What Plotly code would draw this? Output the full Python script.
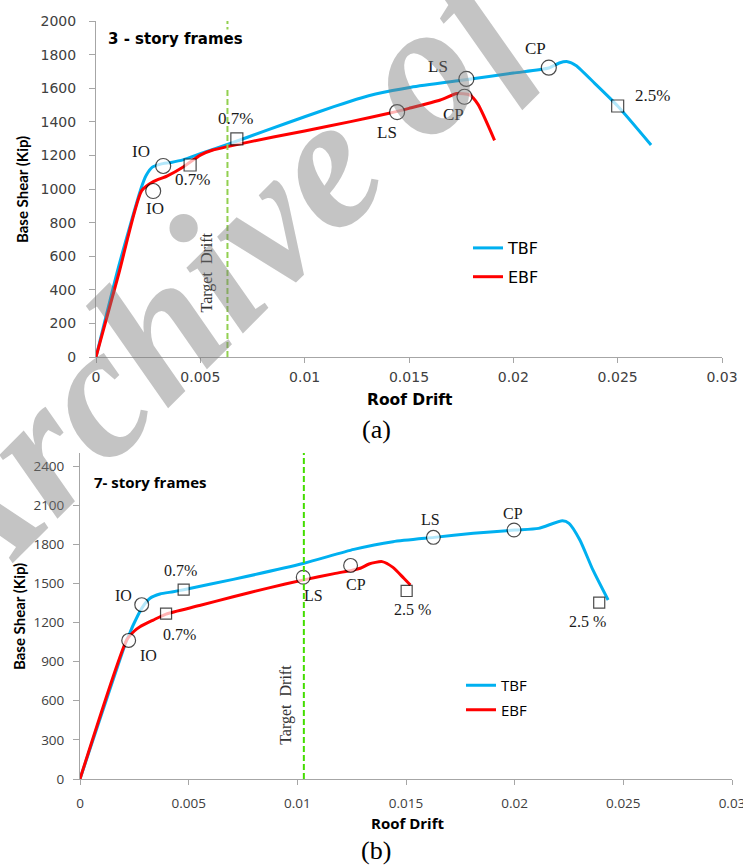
import plotly.graph_objects as go

W, H = 743, 867

# ---------------- (a) 3-story frames: pushover curves ----------------
a_tbf_drift = [0, 0.0011, 0.00215, 0.0024, 0.0027, 0.0031, 0.0036, 0.0042, 0.0050, 0.0063,
               0.0082, 0.0100, 0.0114, 0.0127, 0.0134, 0.0151, 0.0177, 0.0200, 0.0217,
               0.0222, 0.0226, 0.0230, 0.0239, 0.0250, 0.0266]
a_tbf_shear = [0, 545, 1000, 1080, 1130, 1148, 1158, 1175, 1210, 1265,
               1350, 1430, 1490, 1542, 1565, 1606, 1650, 1690, 1720,
               1750, 1758, 1735, 1629, 1494, 1262]

a_ebf_drift = [0, 0.0011, 0.00219, 0.00275, 0.0034, 0.0042, 0.0050, 0.0056, 0.0063,
               0.0085, 0.0100, 0.0122, 0.0141, 0.0150, 0.0165, 0.0173, 0.0179, 0.0183, 0.0191]
a_ebf_shear = [0, 500, 990, 1044, 1077, 1133, 1202, 1232, 1252,
               1310, 1345, 1401, 1452, 1480, 1530, 1568, 1560, 1505, 1290]

# performance points (a)
a_tbf_pt_drift = [0.00322, 0.00675, 0.01775, 0.0217, 0.0250]
a_tbf_pt_shear = [1137, 1298, 1655, 1722, 1494]
a_tbf_pt_label = ["IO", "0.7%", "LS", "CP", "2.5%"]
a_tbf_pt_kind = ["circle", "square", "circle", "circle", "square"]

a_ebf_pt_drift = [0.00274, 0.00451, 0.01443, 0.01766]
a_ebf_pt_shear = [988, 1143, 1458, 1549]
a_ebf_pt_label = ["IO", "0.7%", "LS", "CP"]
a_ebf_pt_kind = ["circle", "square", "circle", "circle"]

a_target_drift = 0.0063

# ---------------- (b) 7-story frames: pushover curves ----------------
b_tbf_drift = [0, 0.00215, 0.00222, 0.00245, 0.00284, 0.00322, 0.00368, 0.00429, 0.00477,
               0.00705, 0.0103, 0.0126, 0.0144, 0.0163, 0.0181, 0.0200, 0.0211,
               0.0222, 0.0225, 0.0230, 0.0236, 0.0243]
b_tbf_shear = [0, 1066, 1091, 1181, 1309, 1386, 1419, 1436, 1452,
               1531, 1654, 1761, 1820, 1853, 1884, 1909, 1922,
               1981, 1961, 1833, 1603, 1373]

b_ebf_drift = [0, 0.00215, 0.0025, 0.00276, 0.00337, 0.00396, 0.0055, 0.00705, 0.0086,
               0.0103, 0.0117, 0.0125, 0.0129, 0.0133, 0.0139, 0.0144, 0.0149, 0.0152]
b_ebf_shear = [0, 1066, 1135, 1168, 1219, 1265, 1330, 1398, 1462,
               1527, 1575, 1600, 1616, 1649, 1667, 1623, 1539, 1488]

b_tbf_pt_drift = [0.00284, 0.00477, 0.01626, 0.01997, 0.02389]
b_tbf_pt_shear = [1337, 1452, 1853, 1909, 1352]
b_tbf_pt_label = ["IO", "0.7%", "LS", "CP", "2.5 %"]
b_tbf_pt_kind = ["circle", "square", "circle", "circle", "square"]

b_ebf_pt_drift = [0.00224, 0.00396, 0.01027, 0.01245, 0.01503]
b_ebf_pt_shear = [1063, 1268, 1547, 1638, 1442]
b_ebf_pt_label = ["IO", "0.7%", "LS", "CP", "2.5 %"]
b_ebf_pt_kind = ["circle", "square", "circle", "circle", "square"]

b_target_drift = 0.0103

x_ticks = [0, 0.005, 0.01, 0.015, 0.02, 0.025, 0.03]
x_tick_text = ["0", "0.005", "0.01", "0.015", "0.02", "0.025", "0.03"]
a_y_ticks = list(range(0, 2001, 200))
b_y_ticks = list(range(0, 2401, 300))

BLUE = "#00B0F0"
RED = "#FF0000"
AXIS = "#A6A6A6"
TICKC = "#404040"
SERIF = "Liberation Serif"


def px_x(p):
    return p / W


def px_y(p):
    return 1 - p / H


fig = go.Figure()

# curves
for xs, ys, name, color, xa, ya, lg in [
    (a_tbf_drift, a_tbf_shear, "TBF", BLUE, "x", "y", "legend"),
    (a_ebf_drift, a_ebf_shear, "EBF", RED, "x", "y", "legend"),
    (b_tbf_drift, b_tbf_shear, "TBF", BLUE, "x2", "y2", "legend2"),
    (b_ebf_drift, b_ebf_shear, "EBF", RED, "x2", "y2", "legend2"),
]:
    fig.add_trace(go.Scatter(
        x=xs, y=ys, name=name, mode="lines", xaxis=xa, yaxis=ya, legend=lg,
        legendgroup=lg + name,
        line=dict(color=color, width=3, shape="spline", smoothing=0.6),
        hoverinfo="skip"))

# performance-level markers
for xs, ys, kinds, xa, ya, msize in [
    (a_tbf_pt_drift, a_tbf_pt_shear, a_tbf_pt_kind, "x", "y", 1.0),
    (a_ebf_pt_drift, a_ebf_pt_shear, a_ebf_pt_kind, "x", "y", 1.0),
    (b_tbf_pt_drift, b_tbf_pt_shear, b_tbf_pt_kind, "x2", "y2", 0.92),
    (b_ebf_pt_drift, b_ebf_pt_shear, b_ebf_pt_kind, "x2", "y2", 0.92),
]:
    sizes = [(15 if k == "circle" else 12) * msize for k in kinds]
    fig.add_trace(go.Scatter(
        x=xs, y=ys, mode="markers", xaxis=xa, yaxis=ya, showlegend=False,
        marker=dict(symbol=kinds, size=sizes, color="white",
                    line=dict(color="black", width=1.2)),
        hoverinfo="skip"))

# label offsets (pixels) for each performance point
a_tbf_off = [(-22, 14), (-1, 20), (-28, 12), (-13, 19), (35, 11)]
a_ebf_off = [(2, -17), (2, -15), (-10, -20), (-11, -18)]
b_tbf_off = [(-18, 9), (-3, 19), (-3, 18), (-1, 17), (-12, -19)]
b_ebf_off = [(20, -15), (13, -21), (10, -18), (5, -19), (6, -19)]

annotations = []
for xs, ys, labels, offs, xa, ya, fsize in [
    (a_tbf_pt_drift, a_tbf_pt_shear, a_tbf_pt_label, a_tbf_off, "x", "y", 17),
    (a_ebf_pt_drift, a_ebf_pt_shear, a_ebf_pt_label, a_ebf_off, "x", "y", 17),
    (b_tbf_pt_drift, b_tbf_pt_shear, b_tbf_pt_label, b_tbf_off, "x2", "y2", 16),
    (b_ebf_pt_drift, b_ebf_pt_shear, b_ebf_pt_label, b_ebf_off, "x2", "y2", 16),
]:
    for x, y, t, (dx, dy) in zip(xs, ys, labels, offs):
        annotations.append(dict(
            x=x, y=y, xref=xa, yref=ya, text=t, showarrow=False,
            xshift=dx, yshift=dy, xanchor="center", yanchor="middle",
            font=dict(family=SERIF, size=fsize, color="#1a1a1a")))

# target drift lines
shapes = [
    dict(type="line", xref="x", yref="y", x0=a_target_drift, x1=a_target_drift,
         y0=0, y1=2000, line=dict(color="#92D050", width=2, dash="6px,3px")),
    dict(type="line", xref="x2", yref="y2", x0=b_target_drift, x1=b_target_drift,
         y0=0, y1=2500, line=dict(color="#44DD00", width=2, dash="6px,3px")),
]


def paper_text(px, py, text, font, **kw):
    d = dict(x=px_x(px), y=px_y(py), xref="paper", yref="paper", text=text,
             showarrow=False, xanchor="center", yanchor="middle", font=font)
    d.update(kw)
    return d


annotations += [
    dict(x=a_target_drift, y=0, xref="x", yref="y", text="Target  Drift", textangle=-90,
         showarrow=False, xanchor="center", yanchor="middle", xshift=-20, yshift=85,
         font=dict(family=SERIF, size=16, color="#333333")),
    dict(x=b_target_drift, y=0, xref="x2", yref="y2", text="Target  Drift", textangle=-90,
         showarrow=False, xanchor="center", yanchor="middle", xshift=-18, yshift=74,
         font=dict(family=SERIF, size=16, color="#333333")),
    # chart titles (the white box hides the target line behind the title)
    paper_text(107, 29, "<b>3 - story frames</b>",
               dict(family="DejaVu Sans", size=15, color="black"),
               xanchor="left", yanchor="top", height=57, valign="top",
               bgcolor="white", borderpad=0),
    paper_text(92, 482, "<b>7- story frames</b>",
               dict(family="Open Sans", size=15, color="black"), xanchor="left"),
    # axis titles
    paper_text(22, 190, "<b>Base Shear (Kip)</b>",
               dict(family="Lato", size=15, color="black"), textangle=-90),
    paper_text(19, 617, "<b>Base Shear (Kip)</b>",
               dict(family="Lato", size=15, color="black"), textangle=-90),
    paper_text(410, 400, "<b>Roof Drift</b>",
               dict(family="DejaVu Sans", size=15.5, color="black")),
    paper_text(407, 823, "<b>Roof Drift</b>",
               dict(family="Open Sans", size=15, color="black")),
    # panel captions
    paper_text(376, 429, "(a)", dict(family=SERIF, size=26, color="black")),
    paper_text(376, 850, "(b)", dict(family=SERIF, size=26, color="black")),
    # archive watermark
    paper_text(210, 277, "Archive of",
               dict(family=SERIF, size=188, weight="bold", style="italic",
                    color="rgba(120,120,120,0.44)"), textangle=-45),
]

axis_common = dict(showgrid=False, zeroline=False, showline=True, linecolor=AXIS, linewidth=1,
                   ticks="outside", tickcolor=AXIS, tickwidth=1, automargin=False,
                   ticklabeloverflow="allow")

fig.update_layout(
    width=W, height=H, margin=dict(l=0, r=0, t=0, b=0, autoexpand=False),
    paper_bgcolor="white", plot_bgcolor="white",
    xaxis=dict(domain=[px_x(96), px_x(722)], anchor="y", range=[0, 0.03],
               tickvals=x_ticks, ticktext=x_tick_text, ticklen=5, ticklabelstandoff=2,
               tickfont=dict(family="DejaVu Sans", size=14, color=TICKC), **axis_common),
    yaxis=dict(domain=[px_y(357), px_y(21)], anchor="x", range=[0, 2000],
               tickvals=a_y_ticks, ticklen=6, ticklabelstandoff=10,
               tickfont=dict(family="DejaVu Sans", size=14, color=TICKC), **axis_common),
    xaxis2=dict(domain=[px_x(80), px_x(732)], anchor="y2", range=[0, 0.03],
                tickvals=x_ticks, ticktext=x_tick_text, ticklen=5, ticklabelstandoff=7,
                tickfont=dict(family="Open Sans", size=13.5, color=TICKC), **axis_common),
    yaxis2=dict(domain=[px_y(779), px_y(453)], anchor="x2", range=[0, 2500],
                tickvals=b_y_ticks, ticklen=6, ticklabelstandoff=6,
                tickfont=dict(family="Open Sans", size=13.5, color=TICKC), **axis_common),
    legend=dict(x=px_x(468), y=px_y(231), xanchor="left", yanchor="top",
                bgcolor="rgba(0,0,0,0)", itemwidth=30, tracegroupgap=5,
                font=dict(family="DejaVu Sans", size=16, color="black")),
    legend2=dict(x=px_x(461), y=px_y(669), xanchor="left", yanchor="top",
                 bgcolor="rgba(0,0,0,0)", itemwidth=30, tracegroupgap=2,
                 font=dict(family="Open Sans", size=15, color="black")),
    shapes=shapes,
    annotations=annotations,
)

fig.write_html("out.html")
